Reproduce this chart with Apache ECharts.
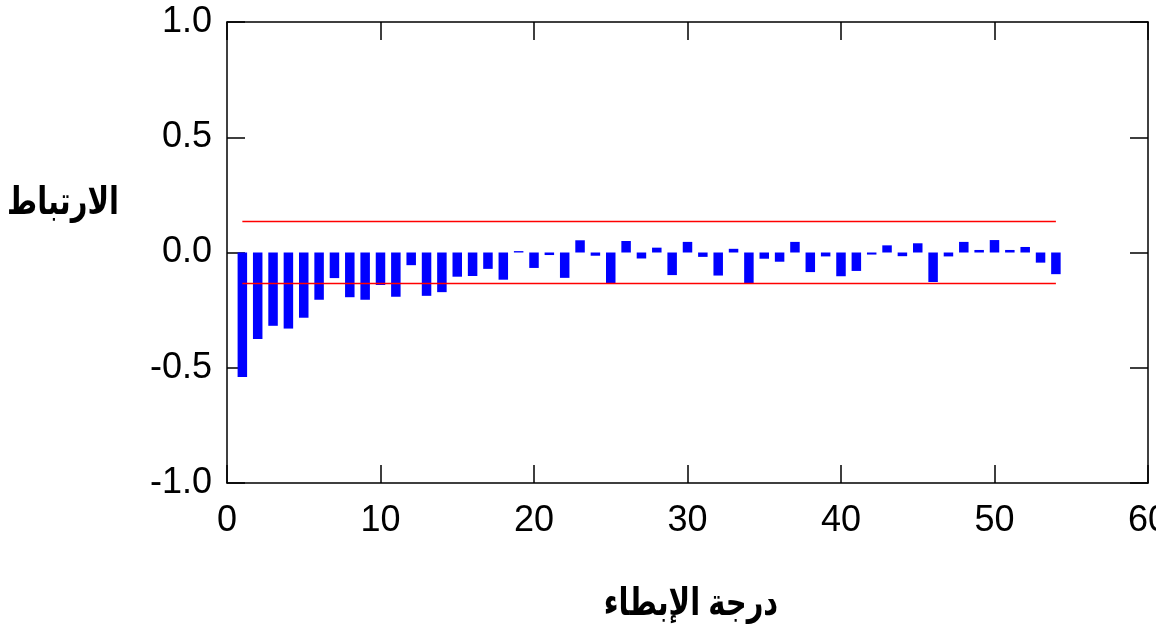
<!DOCTYPE html>
<html>
<head>
<meta charset="utf-8">
<script src="https://cdn.jsdelivr.net/npm/echarts@6/dist/echarts.min.js"></script>
<style>
html,body{margin:0;padding:0;background:#fff;}
#chart{width:1156px;height:628px;}
</style>
</head>
<body>
<div id="chart"></div>
<script>
var lags = [1,2,3,4,5,6,7,8,9,10,11,12,13,14,15,16,17,18,19,20,21,22,23,24,25,26,27,28,29,30,31,32,33,34,35,36,37,38,39,40,41,42,43,44,45,46,47,48,49,50,51,52,53,54];
var acf = [-0.54,-0.375,-0.318,-0.33,-0.283,-0.205,-0.111,-0.194,-0.205,-0.141,
           -0.192,-0.055,-0.188,-0.172,-0.105,-0.102,-0.071,-0.118,0.006,-0.067,
           -0.011,-0.11,0.053,-0.014,-0.135,0.05,-0.026,0.021,-0.098,0.046,
           -0.019,-0.1,0.016,-0.135,-0.027,-0.04,0.046,-0.085,-0.017,-0.103,
           -0.08,-0.009,0.031,-0.016,0.04,-0.128,-0.017,0.046,0.011,0.054,
           0.011,0.024,-0.044,-0.094];
var confBound = 0.135;
var confRange = [1, 54];
var yTitle = 'الارتباط';
var xTitle = 'درجة الإبطاء';

var font = '"Liberation Sans", Arial, "DejaVu Sans", sans-serif';
var barData = lags.map(function(l, i){ return [l, acf[i]]; });

var chart = echarts.init(document.getElementById('chart'), null, {renderer:'canvas'});
var axisLineStyle = {color:'#000', width:1.5};
chart.setOption({
  animation:false,
  backgroundColor:'#fff',
  grid:{left:227, top:22, right:8, bottom:145, containLabel:false, outerBoundsMode:'none'},
  xAxis:[{
    type:'value', min:0, max:60, interval:10, position:'bottom',
    axisLine:{show:true, onZero:false, lineStyle:axisLineStyle},
    axisTick:{show:true, inside:true, length:18, lineStyle:axisLineStyle},
    axisLabel:{show:true, fontSize:36, color:'#000', fontFamily:font, margin:20, showMaxLabel:true, hideOverlap:false},
    splitLine:{show:false}
  },{
    type:'value', min:0, max:60, interval:10, position:'top',
    axisLine:{show:true, onZero:false, lineStyle:axisLineStyle},
    axisTick:{show:true, inside:true, length:18, lineStyle:axisLineStyle},
    axisLabel:{show:false}, splitLine:{show:false}
  }],
  yAxis:[{
    type:'value', min:-1, max:1, interval:0.5, position:'left',
    axisLine:{show:true, onZero:false, lineStyle:axisLineStyle},
    axisTick:{show:true, inside:true, length:18, lineStyle:axisLineStyle},
    axisLabel:{show:true, fontSize:36, color:'#000', fontFamily:font, margin:15,
      formatter:function(v){ return v.toFixed(1); }},
    splitLine:{show:false}
  },{
    type:'value', min:-1, max:1, interval:0.5, position:'right',
    axisLine:{show:true, onZero:false, lineStyle:axisLineStyle},
    axisTick:{show:true, inside:true, length:18, lineStyle:axisLineStyle},
    axisLabel:{show:false}, splitLine:{show:false}
  }],
  series:[{
    type:'bar', xAxisIndex:0, yAxisIndex:0, data:barData, barWidth:9.5,
    itemStyle:{color:'#0000ff'}, z:3
  },{
    type:'line', xAxisIndex:0, yAxisIndex:0, symbol:'none',
    data:[[confRange[0], confBound],[confRange[1], confBound]],
    lineStyle:{color:'#ff0000', width:1.5}, z:2
  },{
    type:'line', xAxisIndex:0, yAxisIndex:0, symbol:'none',
    data:[[confRange[0], -confBound],[confRange[1], -confBound]],
    lineStyle:{color:'#ff0000', width:1.5}, z:4
  }],
  graphic:[{
    type:'text', x:63, y:204, scaleY:1.3,
    style:{text:yTitle, x:0, y:0, fontSize:29, fontWeight:'bold', fill:'#000', fontFamily:font,
      align:'center', verticalAlign:'middle'}
  },{
    type:'text', x:691, y:605, scaleY:1.3,
    style:{text:xTitle, x:0, y:0, fontSize:29, fontWeight:'bold', fill:'#000', fontFamily:font,
      align:'center', verticalAlign:'middle'}
  }]
});
</script>
</body>
</html>
